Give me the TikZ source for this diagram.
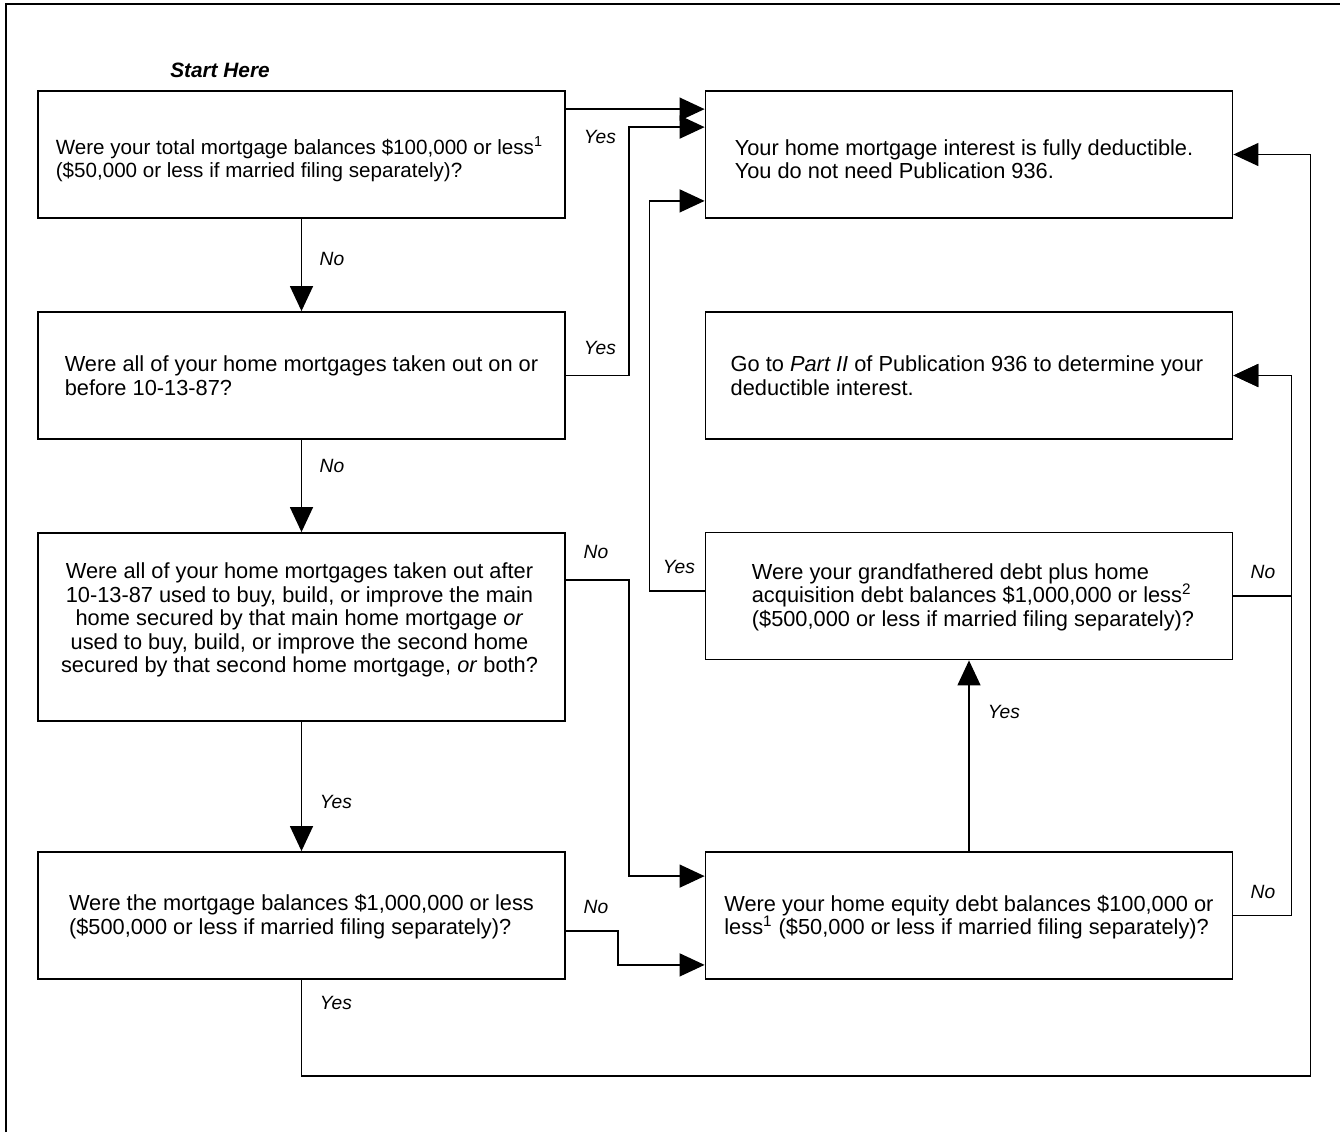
\documentclass[tikz,border=0pt]{standalone}
\usepackage{fontspec}
\setmainfont{Liberation Sans}
\usetikzlibrary{arrows.meta,calc}
\begin{document}
\begin{tikzpicture}[x=0.5pt,y=-0.5pt,
  box/.style={draw, line width=0.9pt, minimum width=263.5pt, minimum height=63.5pt, inner sep=0pt},
  txt/.style={inner sep=0pt, align=left, font=\fontsize{10.9}{11.8}\selectfont},
  tighttxt/.style={txt, font=\fontsize{10.3}{11.8}\selectfont},
  link/.style={line width=0.7pt},
  arr/.style={link, -{Triangle[length=12.5pt,width=11.5pt]}},
  lbl/.style={font=\fontsize{9.6}{12}\selectfont\itshape, inner sep=0pt},
  title/.style={font=\fontsize{10.4}{12}\selectfont\bfseries\itshape, inner sep=0pt}]
\useasboundingbox (0,0) rectangle (1340,1132);
% frame
\draw[line width=1pt] (6,1132) -- (6,4) -- (1340,4);

\node[title] (start) at (220,70) {Start Here};

% boxes
\node[box] (b1) at (301.5,154.5) {};
\node[box] (b2) at (301.5,375.5) {};
\node[box, minimum height=94pt] (b3) at (301.5,627) {};
\node[box] (b4) at (301.5,915.5) {};
\node[box] (r1) at (969,154.5) {};
\node[box] (r2) at (969,375.5) {};
\node[box] (g) at (969,596) {};
\node[box] (eq) at (969,915.5) {};

% box texts
\node[tighttxt] (b1t) at ($(b1)+(-2,5)$)
  {Were your total mortgage balances \$100,000 or less\textsuperscript{1}\\(\$50,000 or less if married filing separately)?};
\node[txt] (b2t) at ($(b2)+(0,0)$)
  {Were all of your home mortgages taken out on or\\before 10-13-87?};
\node[txt, align=center] (b3t) at ($(b3)+(-2,-7)$)
  {Were all of your home mortgages taken out after\\10-13-87 used to buy, build, or improve the main\\home secured by that main home mortgage \textit{or}\\used to buy, build, or improve the second home\\secured by that second home mortgage, \textit{or} both?};
\node[txt] (b4t) at ($(b4)+(0,1)$)
  {Were the mortgage balances \$1,000,000 or less\\(\$500,000 or less if married filing separately)?};
\node[txt] (r1t) at ($(r1)+(-5,4.5)$)
  {Your home mortgage interest is fully deductible.\\You do not need Publication 936.};
\node[txt] (r2t) at ($(r2)+(-2,0)$)
  {Go to \textit{Part II} of Publication 936 to determine your\\deductible interest.};
\node[txt] (gt) at ($(g)+(4,1)$)
  {Were your grandfathered debt plus home\\acquisition debt balances \$1,000,000 or less\textsuperscript{2}\\(\$500,000 or less if married filing separately)?};
\node[txt] (eqt) at ($(eq)+(0,1.5)$)
  {Were your home equity debt balances \$100,000 or\\less\textsuperscript{1} (\$50,000 or less if married filing separately)?};

% connectors
\draw[arr] ($(b1.north east)+(0,19)$) -- ($(r1.north west)+(0,19)$);
\draw[arr] (b2.east) -- ++(63,0) |- ($(r1.north west)+(0,37)$);
\draw[arr] ($(g.west)+(0,-5)$) -- ++(-55,0) |- ($(r1.south west)+(0,-18)$);
\draw[arr] (b1.south) -- (b2.north);
\draw[arr] (b2.south) -- (b3.north);
\draw[arr] (b3.south) -- (b4.north);
\draw[arr] ($(b3.north east)+(0,48)$) -- ++(63,0) |- ($(eq.north west)+(0,25)$);
\draw[arr] ($(b4.north east)+(0,80)$) -- ++(52,0) |- ($(eq.south west)+(0,-15)$);
\draw[arr] (eq.north) -- (g.south);
\draw[arr] (g.east) -- ++(58,0) |- (r2.east);
\draw[arr] (eq.east) -- ++(58,0) |- (r2.east);
\draw[arr] (b4.south) -- ++(0,96) -| ($(r1.east)+(77,0)$) -- (r1.east);

% branch labels
\node[lbl] (y1) at (600,137) {Yes};
\node[lbl] (y2) at (600,348) {Yes};
\node[lbl] (y3) at (679,567) {Yes};
\node[lbl] (n1) at (332,259) {No};
\node[lbl] (n2) at (332,466) {No};
\node[lbl] (y4) at (336,802) {Yes};
\node[lbl] (n3) at (596,552) {No};
\node[lbl] (n4) at (1263,572) {No};
\node[lbl] (y5) at (1004,712) {Yes};
\node[lbl] (n5) at (1263,892) {No};
\node[lbl] (n6) at (596,907) {No};
\node[lbl] (y6) at (336,1003) {Yes};
\end{tikzpicture}
\end{document}
